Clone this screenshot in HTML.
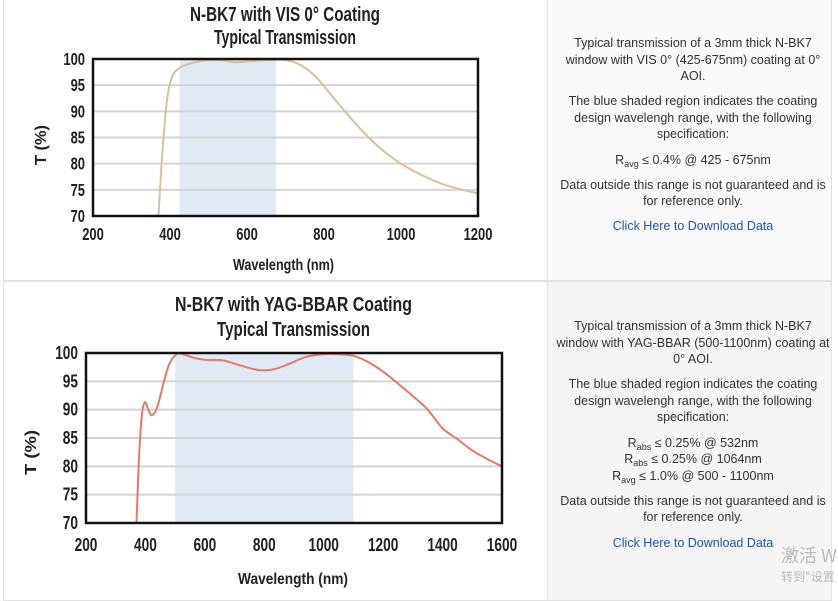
<!DOCTYPE html>
<html><head><meta charset="utf-8"><style>
body{margin:0;width:838px;height:593px;background:#fff;overflow:hidden;position:relative;font-family:"Liberation Sans",sans-serif}
.cell{position:absolute;box-sizing:border-box}
.txt{position:absolute;left:556px;width:274px;text-align:center;font-size:12.5px;color:#333;line-height:16.6px}
.txt p{margin:0 0 8.5px 0}
.txt a{color:#2255b8;text-decoration:none}
sub{font-size:9px;vertical-align:-3px;line-height:0}
svg text{font-family:"Liberation Sans",sans-serif;font-weight:bold;fill:#222}
</style></head><body>
<div class="cell" style="left:3px;top:-1px;width:545px;height:282px;border:1px solid #e2e2e2"></div>
<div class="cell" style="left:547px;top:-1px;width:285px;height:282px;border:1px solid #e2e2e2;background:#fafafa"></div>
<div class="cell" style="left:3px;top:281px;width:545px;height:320px;border:1px solid #e2e2e2"></div>
<div class="cell" style="left:547px;top:281px;width:285px;height:320px;border:1px solid #e2e2e2;background:#f5f5f5"></div>

<svg id="s" width="838" height="593" style="position:absolute;left:0;top:0">
<g font-size="20">
<text x="190" y="21" textLength="190" lengthAdjust="spacingAndGlyphs">N-BK7 with VIS 0° Coating</text>
<text x="214" y="44" textLength="142" lengthAdjust="spacingAndGlyphs">Typical Transmission</text>
<text x="175" y="311" textLength="237" lengthAdjust="spacingAndGlyphs">N-BK7 with YAG-BBAR Coating</text>
<text x="217" y="336" textLength="153" lengthAdjust="spacingAndGlyphs">Typical Transmission</text>
</g>
<g font-size="15.5">
<text x="233" y="270" textLength="101" lengthAdjust="spacingAndGlyphs">Wavelength (nm)</text>
<text x="238" y="584" textLength="110" lengthAdjust="spacingAndGlyphs">Wavelength (nm)</text>
<text transform="translate(46,165) rotate(-90)" textLength="40" lengthAdjust="spacingAndGlyphs">T (%)</text>
<text transform="translate(36,475) rotate(-90)" textLength="45" lengthAdjust="spacingAndGlyphs">T (%)</text>
</g>
<g id="g"></g>
</svg>

<div class="txt" style="top:35px">
<p>Typical transmission of a 3mm thick N-BK7 window with VIS 0° (425-675nm) coating at 0° AOI.</p>
<p>The blue shaded region indicates the coating design wavelengh range, with the following specification:</p>
<p>R<sub>avg</sub> ≤ 0.4% @ 425 - 675nm</p>
<p>Data outside this range is not guaranteed and is for reference only.</p>
<p><a>Click Here to Download Data</a></p>
</div>
<div class="txt" style="top:318px">
<p>Typical transmission of a 3mm thick N-BK7 window with YAG-BBAR (500-1100nm) coating at 0° AOI.</p>
<p>The blue shaded region indicates the coating design wavelengh range, with the following specification:</p>
<p>R<sub>abs</sub> ≤ 0.25% @ 532nm<br>R<sub>abs</sub> ≤ 0.25% @ 1064nm<br>R<sub>avg</sub> ≤ 1.0% @ 500 - 1100nm</p>
<p>Data outside this range is not guaranteed and is for reference only.</p>
<p><a>Click Here to Download Data</a></p>
</div>
<div style="position:absolute;left:781px;top:542px;font-size:18px;color:#bbb;font-family:'Noto Sans CJK SC',sans-serif">激活 W</div>
<div style="position:absolute;left:781px;top:568px;font-size:12px;color:#bbb;font-family:'Noto Sans CJK SC',sans-serif">转到"设置</div>

<script>
function chart(c){
 var x0=c.x0,x1=c.x1,y0=c.y0,y1=c.y1;
 var X=v=>x0+(v-200)/(c.xmax-200)*(x1-x0), Y=v=>y1-(v-70)/30*(y1-y0);
 var s='';
 s+=`<rect x="${X(c.b0)}" y="${y0}" width="${X(c.b1)-X(c.b0)}" height="${y1-y0}" fill="#dfeaf5"/>`;
 for(var t=75;t<100;t+=5) s+=`<line x1="${x0}" x2="${x1}" y1="${Y(t)}" y2="${Y(t)}" stroke="#d4d4d4" stroke-width="2"/>`;
 var p=c.d.map(a=>[X(a[0]),Y(a[1])]);
 var d='M'+p[0];
 for(var i=0;i<p.length-1;i++){var a=p[i-1]||p[i],b=p[i],e=p[i+1],f=p[i+2]||e;
  d+=` C${b[0]+(e[0]-a[0])/6},${b[1]+(e[1]-a[1])/6} ${e[0]-(f[0]-b[0])/6},${e[1]-(f[1]-b[1])/6} ${e[0]},${e[1]}`;}
 s+=`<path d="${d}" fill="none" stroke="${c.col}" stroke-width="2"/>`;
 s+=`<rect x="${x0}" y="${y0}" width="${x1-x0}" height="${y1-y0}" fill="none" stroke="#111" stroke-width="2.5"/>`;
 var cw=c.cw;
 for(var t=70;t<=100;t+=5){var n=String(t).length;s+=`<text x="${x0-8-n*cw}" y="${Y(t)+6}" font-size="${c.fs}" textLength="${n*cw}" lengthAdjust="spacingAndGlyphs">${t}</text>`;}
 for(var v=200;v<=c.xmax;v+=200){var n=String(v).length;s+=`<text x="${X(v)-n*cw/2}" y="${c.ly}" font-size="${c.fs}" textLength="${n*cw}" lengthAdjust="spacingAndGlyphs">${v}</text>`;}
 return s;
}
document.getElementById('g').innerHTML=chart({x0:93,x1:478,y0:59,y1:216,xmax:1200,b0:425,b1:675,col:"#d9c09a",ly:240,fs:17.5,cw:7.2,
 d:[[370,70],[380,82],[392,92],[405,96.5],[425,98.3],[460,99.3],[500,99.8],[540,99.7],[570,99.4],[610,99.6],[660,99.8],[700,99.8],[740,98.8],[780,96.5],[820,93],[860,89.5],[900,86.2],[950,82.7],[1000,80],[1060,77.6],[1120,75.8],[1200,74.3]]})
+chart({x0:86,x1:502,y0:353,y1:523,xmax:1600,b0:500,b1:1100,col:"#e57a6c",ly:551,fs:18.5,cw:7.6,
 d:[[370,70],[378,81],[388,89],[398,91.3],[410,90],[422,89],[440,90.5],[460,94.5],[480,98],[505,99.8],[525,99.8],[560,99.2],[600,98.8],[660,98.7],[720,97.8],[780,97],[830,97.1],[880,98],[940,99.3],[1000,99.8],[1040,99.8],[1100,99.5],[1150,98.4],[1200,96.7],[1250,94.6],[1300,92.4],[1350,90],[1400,86.7],[1450,84.8],[1500,82.8],[1550,81.3],[1600,80]]});
</script>
</body></html>
